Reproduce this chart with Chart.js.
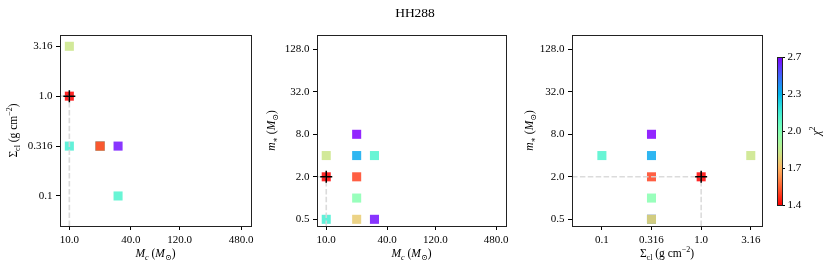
<!DOCTYPE html>
<html><head><meta charset="utf-8">
<script src="https://cdn.jsdelivr.net/npm/chart.js@4.4.1/dist/chart.umd.min.js"></script>
<style>
html,body{margin:0;padding:0;background:#fff;}
#wrap{position:relative;width:831px;height:271px;overflow:hidden;background:#fff;}
canvas{position:absolute;left:0;top:0;}
</style></head><body>
<div id="wrap">
<canvas id="c1" width="831" height="271"></canvas>
<canvas id="c2" width="831" height="271"></canvas>
<canvas id="c3" width="831" height="271"></canvas>
<canvas id="cb" width="831" height="271"></canvas>
</div>
<script>
// ---- data (one entry per model) ----
const modelMc    = [10, 10, 10, 20, 20, 20, 20, 20, 30, 30];
const modelSigma = [1.0, 3.16, 0.316, 0.316, 0.316, 0.316, 0.316, 0.316, 0.1, 0.316];
const modelMstar = [2, 4, 0.5, 8, 4, 2, 1, 0.5, 4, 0.5];
const modelChi2  = [1.36, 1.82, 2.16, 2.66, 2.36, 1.47, 1.99, 1.74, 2.14, 2.63];

// ---- tick values / labels ----
const mcTicks = [10, 40, 120, 480];
const mcTickLabels = ['10.0', '40.0', '120.0', '480.0'];
const sigmaTicks = [0.1, 0.316, 1.0, 3.16];
const sigmaTickLabels = ['0.1', '0.316', '1.0', '3.16'];
const mstarTicks = [0.5, 2, 8, 32, 128];
const mstarTickLabels = ['0.5', '2.0', '8.0', '32.0', '128.0'];
const chiTickLabels = ['1.4', '1.7', '2.0', '2.3', '2.7'];

const title = 'HH288';

// ---- axis ranges ----
const MC_MIN = 8.1, MC_MAX = 601;
const SIG_MIN = 0.05, SIG_MAX = 4.1;
const MS_MIN = 0.402, MS_MAX = 204;

const FONT = "'Liberation Serif','DejaVu Serif',serif";
const W = 831, H = 271;

function rainbowR(t) {
  const x = 1 - Math.max(0, Math.min(1, t));
  const r = Math.min(1, Math.abs(2 * x - 0.5));
  const g = Math.max(0, Math.sin(Math.PI * x));
  const b = Math.max(0, Math.cos(Math.PI * x / 2));
  return [r, g, b];
}
const chiMin = Math.min(...modelChi2), chiMax = Math.max(...modelChi2);
function colorOf(v, a) {
  const c = rainbowR((v - chiMin) / (chiMax - chiMin));
  return `rgba(${Math.round(c[0]*255)},${Math.round(c[1]*255)},${Math.round(c[2]*255)},${a})`;
}
const order = modelChi2.map((_, i) => i).sort((a, b) => modelChi2[b] - modelChi2[a]);
const bestIdx = modelChi2.indexOf(chiMin);

function drawRich(ctx, segs, cx, cy, rot, size) {
  const sub = Math.round(size * 0.72);
  ctx.save();
  ctx.translate(cx, cy);
  if (rot) ctx.rotate(-Math.PI / 2);
  let total = 0;
  const parts = segs.map(s => {
    const fs = s.s ? sub : size;
    const f = (s.i ? 'italic ' : '') + fs + 'px ' + FONT;
    ctx.font = f;
    const w = ctx.measureText(s.t).width;
    total += w;
    return {f, w, s};
  });
  let x = -total / 2;
  ctx.fillStyle = '#000';
  ctx.textBaseline = 'alphabetic';
  ctx.textAlign = 'left';
  for (const p of parts) {
    ctx.font = p.f;
    let dy = size * 0.35;
    if (p.s.s === 'sub') dy += size * 0.25;
    if (p.s.s === 'sup') dy -= size * 0.4;
    ctx.fillText(p.s.t, x, dy);
    x += p.w;
  }
  ctx.restore();
}

const labMc = [{t:'M', i:1}, {t:'c', i:1, s:'sub'}, {t:' ('}, {t:'M', i:1}, {t:'⊙', s:'sub'}, {t:')'}];
const labSig = [{t:'Σ'}, {t:'cl', s:'sub'}, {t:' (g cm'}, {t:'−2', s:'sup'}, {t:')'}];
const labMs = [{t:'m', i:1}, {t:'∗', s:'sub'}, {t:' ('}, {t:'M', i:1}, {t:'⊙', s:'sub'}, {t:')'}];
const labChi = [{t:'χ', i:1}, {t:'2', s:'sup'}];

const panelPlugin = {
  id: 'panelDeco',
  afterDraw(chart) {
    const o = chart.options.plugins.panelDeco;
    if (!o) return;
    const a = chart.chartArea, ctx = chart.ctx;
    ctx.save();
    ctx.strokeStyle = '#222';
    ctx.lineWidth = 1;
    ctx.strokeRect(Math.round(a.left) + 0.5, Math.round(a.top) + 0.5, Math.round(a.right - a.left), Math.round(a.bottom - a.top));
    ctx.restore();
    if (o.xLab) drawRich(ctx, o.xLab, (a.left + a.right) / 2, a.bottom + 27, false, 11.5);
    if (o.yLab) drawRich(ctx, o.yLab, a.left - o.yOff, (a.top + a.bottom) / 2, true, 11.5);
    if (o.title) {
      ctx.save();
      ctx.font = '13.5px ' + FONT;
      ctx.fillStyle = '#000';
      ctx.textAlign = 'center';
      ctx.textBaseline = 'middle';
      ctx.fillText(o.title, 415, 13);
      ctx.restore();
    }
  }
};

function logAxis(pos, min, max, ticks, labels, fit) {
  return {
    type: 'logarithmic', position: pos, min, max,
    afterBuildTicks: s => { s.ticks = ticks.map(v => ({value: v})); },
    afterFit: fit,
    ticks: {
      autoSkip: false, maxRotation: 0, minRotation: 0, padding: 3.5, color: '#000',
      font: {family: FONT, size: 11},
      callback: (v, i) => labels[i]
    },
    grid: {drawOnChartArea: false, drawTicks: true, tickLength: 4, color: '#000', lineWidth: 1},
    border: {display: true, color: '#222'}
  };
}

function makePanel(id, area, xv, yv, xAx, yAx, xLab, yLab, yOff, xMinV, yMinV, withTitle) {
  const pts = order.map(i => ({x: xv[i], y: yv[i]}));
  const cols = order.map(i => colorOf(modelChi2[i], 0.85));
  const bx = xv[bestIdx], by = yv[bestIdx];
  return new Chart(document.getElementById(id), {
    type: 'scatter',
    data: {
      datasets: [
        {data: pts, pointStyle: 'rect', pointRadius: 6.4, backgroundColor: cols, borderWidth: 0, order: 3},
        {data: [{x: bx, y: yMinV}, {x: bx, y: by}], showLine: true, pointRadius: 0,
          borderColor: 'rgba(215,215,215,0.9)', borderWidth: 1.6, borderDash: [5.5, 2.4], order: 2},
        {data: [{x: xMinV, y: by}, {x: bx, y: by}], showLine: true, pointRadius: 0,
          borderColor: 'rgba(215,215,215,0.9)', borderWidth: 1.6, borderDash: [5.5, 2.4], order: 2},
        {data: [{x: bx, y: by}], pointStyle: 'cross', pointRadius: 6, borderColor: '#000', borderWidth: 1.5, order: 1}
      ]
    },
    options: {
      responsive: false, animation: false, devicePixelRatio: 1,
      layout: {padding: {left: 0, top: area.top, right: W - area.right, bottom: 0}},
      plugins: {
        legend: {display: false}, tooltip: {enabled: false}, title: {display: false},
        panelDeco: {xLab, yLab, yOff, title: withTitle ? title : null}
      },
      scales: {
        x: logAxis('bottom', xAx[0], xAx[1], xAx[2], xAx[3], s => { s.height = H - area.bottom; }),
        y: logAxis('left', yAx[0], yAx[1], yAx[2], yAx[3], s => { s.width = area.left; })
      }
    },
    plugins: [panelPlugin]
  });
}

const mcAx = [MC_MIN, MC_MAX, mcTicks, mcTickLabels];
const sigAx = [SIG_MIN, SIG_MAX, sigmaTicks, sigmaTickLabels];
const msAx = [MS_MIN, MS_MAX, mstarTicks, mstarTickLabels];

makePanel('c1', {left: 60, right: 251, top: 35, bottom: 226}, modelMc, modelSigma, mcAx, sigAx, labMc, labSig, 47, MC_MIN, SIG_MIN, true);
makePanel('c2', {left: 317, right: 506, top: 35, bottom: 226}, modelMc, modelMstar, mcAx, msAx, labMc, labMs, 46, MC_MIN, MS_MIN, false);
makePanel('c3', {left: 572, right: 762, top: 35, bottom: 226}, modelSigma, modelMstar, sigAx, msAx, labSig, labMs, 43, SIG_MIN, MS_MIN, false);

// ---- colorbar ----
const cbTickVals = chiTickLabels.map((_, i) => chiMin + (chiMax - chiMin) * i / (chiTickLabels.length - 1));
const cbArea = {left: 777, right: 782, top: 57, bottom: 205};
new Chart(document.getElementById('cb'), {
  type: 'bar',
  data: {labels: [''], datasets: [{
    data: [[chiMin, chiMax]], barPercentage: 1, categoryPercentage: 1, borderWidth: 0,
    backgroundColor: (c) => {
      const a = c.chart.chartArea;
      if (!a) return '#000';
      const g = c.chart.ctx.createLinearGradient(0, a.bottom, 0, a.top);
      for (let i = 0; i <= 32; i++) g.addColorStop(i / 32, colorOf(chiMin + (chiMax - chiMin) * i / 32, 1));
      return g;
    }
  }]},
  options: {
    responsive: false, animation: false, devicePixelRatio: 1,
    layout: {padding: {left: cbArea.left, top: cbArea.top, right: 0, bottom: H - cbArea.bottom}},
    plugins: {legend: {display: false}, tooltip: {enabled: false},
      panelDeco: {yLab: null}},
    scales: {
      x: {display: false},
      y: {
        type: 'linear', position: 'right', min: chiMin, max: chiMax,
        afterBuildTicks: s => { s.ticks = cbTickVals.map(v => ({value: v})); },
        afterFit: s => { s.width = W - cbArea.right; },
        ticks: {autoSkip: false, padding: 2.5, color: '#000', font: {family: FONT, size: 11},
          callback: (v, i) => chiTickLabels[i]},
        grid: {drawOnChartArea: false, drawTicks: true, tickLength: 3, color: '#000'},
        border: {display: true, color: '#222'}
      }
    }
  },
  plugins: [{
    id: 'cbDeco',
    afterDraw(chart) {
      const a = chart.chartArea, ctx = chart.ctx;
      ctx.save();
      ctx.strokeStyle = '#222'; ctx.lineWidth = 1;
      ctx.strokeRect(Math.round(a.left) + 0.5, Math.round(a.top) + 0.5, Math.round(a.right - a.left), Math.round(a.bottom - a.top));
      ctx.restore();
      drawRich(ctx, labChi, a.right + 34, (a.top + a.bottom) / 2, true, 11.5);
    }
  }]
});
</script>
</body></html>
